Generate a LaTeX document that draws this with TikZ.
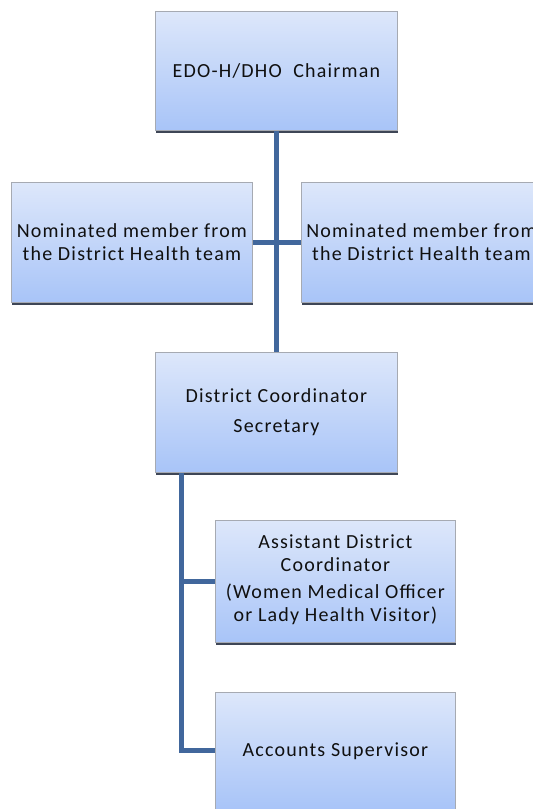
\documentclass[tikz,border=0pt]{standalone}
\usepackage{fontspec}
\setmainfont{Carlito}[LetterSpace=6]
\definecolor{boxtop}{HTML}{DDE7FA}
\definecolor{boxbot}{HTML}{A8C4F8}
\definecolor{edge}{HTML}{A6AAB2}
\definecolor{shade}{HTML}{3E4656}
\definecolor{conn}{HTML}{41679C}
\definecolor{txt}{HTML}{101010}
\tikzset{
  box/.style={rectangle, draw=edge, line width=0.8pt, top color=boxtop, bottom color=boxbot,
    anchor=north west, inner sep=0pt, align=center, text=txt,
    font=\fontsize{20}{23}\selectfont,
    preaction={fill=shade, transform canvas={xshift=0.8pt, yshift=-2.2pt}}},
  conn/.style={draw=conn, line width=5pt},
}
\begin{document}
\begin{tikzpicture}[x=1pt,y=1pt]
\useasboundingbox[fill=white] (0,0) rectangle (533,-809);
\node[box, minimum width=242pt, minimum height=119pt] (top) at (155,-11) {EDO-H/DHO\ \ Chairman};
\node[box, minimum width=241pt, minimum height=120pt] (left) at (11,-182) {Nominated member from\\the District Health team};
\node[box, minimum width=240pt, minimum height=120pt] (right) at (301,-182) {Nominated member from\\the District Health team};
\node[box, minimum width=242pt, minimum height=120pt, font=\fontsize{20}{30}\selectfont] (dcs) at (155,-352) {District Coordinator\\Secretary};
\node[box, minimum width=240pt, minimum height=122pt, text depth=6pt] (adc) at (215,-520) {Assistant District\\Coordinator\\[4pt](Women Medical Officer\\or Lady Health Visitor)};
\node[box, minimum width=240pt, minimum height=117pt] (as) at (215,-692) {Accounts Supervisor};
\coordinate (j) at (181,-472);
\draw[conn] (top.south) -- (dcs.north);
\draw[conn] (left.east) -- (right.west);
\draw[conn, line join=miter] (dcs.south -| j) |- (as.west);
\draw[conn] (j |- adc.west) -- (adc.west);
\end{tikzpicture}
\end{document}
